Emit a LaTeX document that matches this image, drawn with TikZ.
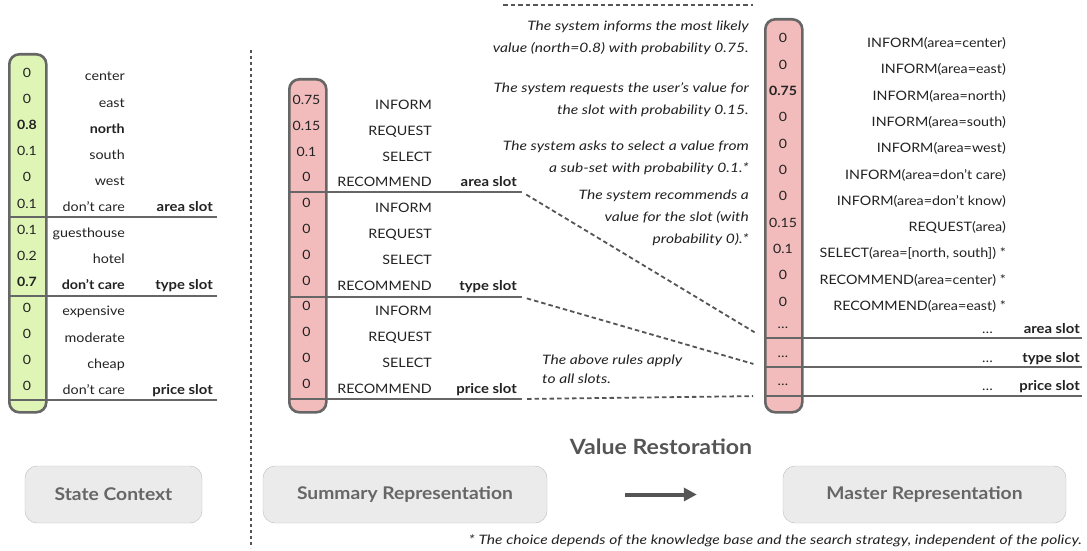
\documentclass[tikz,border=0pt]{standalone}
\usepackage{fontspec}
\setmainfont{Lato}[FakeStretch=1.1]
\newfontfamily\notefont{Lato}[FakeStretch=1.2]
\usetikzlibrary{positioning,arrows.meta}

\definecolor{pillgreen}{HTML}{DFF5B6}
\definecolor{pillred}{HTML}{F1BCBB}
\definecolor{rim}{HTML}{666666}
\definecolor{ink}{HTML}{222222}
\definecolor{boxfill}{HTML}{EBEBEB}
\definecolor{boxrim}{HTML}{BDBDBD}
\definecolor{boxink}{HTML}{666666}
\definecolor{headink}{HTML}{555555}

\tikzset{
  pill/.style={draw=rim, line width=2.6pt, rounded corners=10pt, anchor=north west, minimum width=37pt, inner sep=0pt},
  val/.style={anchor=base, inner sep=0pt, text=ink, font=\fontsize{12.8}{12}\selectfont},
  lab/.style={anchor=base east, inner sep=0pt, text=ink, font=\fontsize{13}{12}\selectfont},
  slot/.style={lab, font=\fontsize{13.5}{12}\selectfont\bfseries},
  sep/.style={draw=rim, line width=1.8pt},
  link/.style={draw=headink, line width=1.8pt, dash pattern=on 4.5pt off 3pt, shorten <=5pt, shorten >=11pt},
  vline/.style={draw=headink, line width=2pt, dash pattern=on 3pt off 3pt},
  note/.style={inner sep=0pt, text=ink, font=\notefont\fontsize{13}{22}\selectfont\itshape},
  panel/.style={draw=boxrim, fill=boxfill, rounded corners=12pt, minimum height=57pt, text=boxink, font=\fontsize{17.5}{17}\selectfont\bfseries},
}

\begin{document}
\begin{tikzpicture}[x=1pt,y=-1pt]
  \useasboundingbox (0,0) rectangle (1087,551);

  % the three columns
  \node[pill, fill=pillgreen, minimum height=358pt] (ctx) at (8,53) {};
  \node[pill, fill=pillred, minimum height=333pt] (sum) at (288,78) {};
  \node[pill, fill=pillred, minimum height=393pt] (mas) at (764,18) {};

  % state context
  \foreach \v/\t [count=\i] in {0/center, 0/east, {\textbf{0.8}}/{\textbf{north}}, 0.1/south, 0/west, 0.1/don’t care,
      0.1/guesthouse, 0.2/hotel, {\textbf{0.7}}/{\textbf{don’t care}}, 0/expensive, 0/moderate, 0/cheap, 0/don’t care} {
    \node[val] (cv\i) at (27, {77.5+26.1*(\i-1)}) {\v};
    \node[lab] (ct\i) at (125, {81+26.1*(\i-1)}) {\t};
  }
  \draw[sep] (8,217) -- (217,217);
  \draw[sep] (8,296) -- (217,296);
  \draw[sep] (8,400) -- (217,400);
  \node[slot] (cs1) at (213,211.5) {area slot};
  \node[slot] (cs2) at (213,289.8) {type slot};
  \node[slot] (cs3) at (213,394.2) {price slot};

  % summary representation
  \foreach \v/\t [count=\i] in {0.75/INFORM, 0.15/REQUEST, 0.1/SELECT, 0/RECOMMEND,
      0/INFORM, 0/REQUEST, 0/SELECT, 0/RECOMMEND, 0/INFORM, 0/REQUEST, 0/SELECT, 0/RECOMMEND} {
    \node[val] (sv\i) at (306.5, {104.5+25.8*(\i-1)}) {\v};
    \node[lab] (st\i) at (432, {109.5+25.8*(\i-1)}) {\t};
  }
  \coordinate (sa) at (522,192);
  \coordinate (sb) at (522,297);
  \coordinate (sc) at (522,399);
  \draw[sep] (288,192) -- (sa);
  \draw[sep] (288,297) -- (sb);
  \draw[sep] (288,399) -- (sc);
  \node[slot] (ss1) at (517,186.9) {area slot};
  \node[slot] (ss2) at (517,290.1) {type slot};
  \node[slot] (ss3) at (517,393.3) {price slot};

  % master representation
  \foreach \v/\t [count=\i] in {0/INFORM(area=center), 0/INFORM(area=east), {\textbf{0.75}}/INFORM(area=north),
      0/INFORM(area=south), 0/INFORM(area=west), 0/INFORM(area=don’t care), 0/INFORM(area=don’t know),
      0.15/REQUEST(area), 0.1/{SELECT(area=[north, south]) *}, 0/RECOMMEND(area=center) *, 0/RECOMMEND(area=east) *} {
    \node[val] (mv\i) at (783, {43+26.3*(\i-1)}) {\v};
    \node[lab] (mt\i) at (1006, {47.5+26.3*(\i-1)}) {\t};
  }
  \foreach \y/\s [count=\i] in {333/area slot, 362/type slot, 390/price slot} {
    \node[val] (md\i) at (783, \y-5) {\ldots};
    \node[lab] (me\i) at (993, \y) {\ldots};
    \node[slot] (ms\i) at (1080, \y) {\s};
  }
  \coordinate (ma) at (764,338);
  \coordinate (mb) at (764,367);
  \coordinate (mc) at (764,396);
  \draw[sep] (ma) -- (1082,338);
  \draw[sep] (mb) -- (1082,367);
  \draw[sep] (mc) -- (1082,396);

  % links between slots
  \coordinate (ta) at (503,5);
  \coordinate (tb) at (753,5);
  \draw[link, shorten <=0pt, shorten >=0pt] (ta) -- (tb);
  \draw[link] (sa) -- (ma);
  \draw[link] (sb) -- (mb);
  \draw[link] (sc) -- (mc);
  \coordinate (va) at (251,50);
  \coordinate (vb) at (251,548);
  \draw[vline] (va) -- (vb);

  % notes
  \node[note, align=right, anchor=north east] (n1) at (749,21) {The system informs the most likely\\value (north=0.8) with probability 0.75.};
  \node[note, align=right, anchor=north east] (n2) at (749,83) {The system requests the user’s value for\\the slot with probability 0.15.};
  \node[note, align=right, anchor=north east] (n3) at (749,141) {The system asks to select a value from\\a sub-set with probability 0.1.*};
  \node[note, align=right, anchor=north east] (n4) at (749,190) {The system recommends a\\value for the slot (with\\probability 0).*};
  \node[note, align=left, anchor=north west, font=\notefont\fontsize{13}{19}\selectfont\itshape] (n5) at (542,355) {The above rules apply\\to all slots.};
  \node[note, anchor=base east] (fn) at (1082,544) {* The choice depends of the knowledge base and the search strategy, independent of the policy.};

  % bottom panels
  \node[panel, minimum width=177pt] (state) at (113.5,494.5) {State Context};
  \node[panel, minimum width=284pt] (summ) at (405,494.5) {Summary Representation};
  \node[panel, minimum width=283pt] (mast) at (924.5,494.5) {Master Representation};
  \draw[-{Triangle[length=13pt,width=13pt]}, line width=4pt, draw=headink, shorten <=78pt, shorten >=86pt] (summ) -- (mast);
  \node[text=headink, font=\fontsize{21}{20}\selectfont\bfseries] (vr) at (661,447) {Value Restoration};
\end{tikzpicture}
\end{document}
